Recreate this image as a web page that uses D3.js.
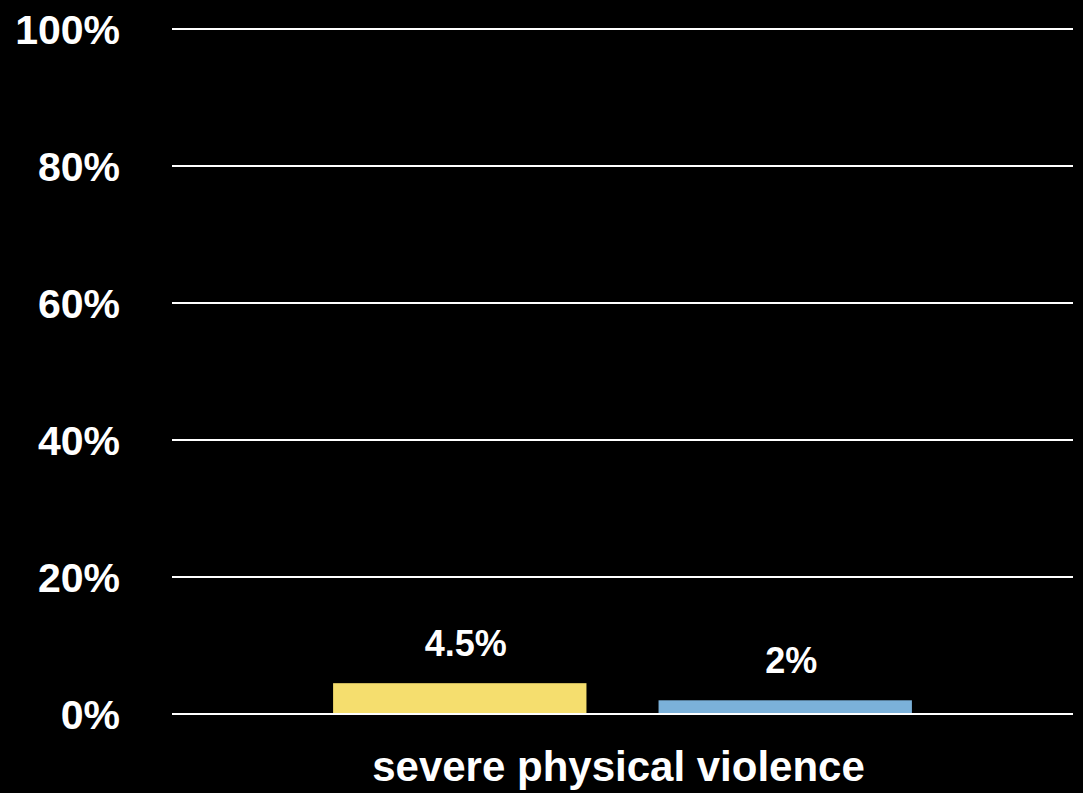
<!DOCTYPE html>
<html>
<head>
<meta charset="utf-8">
<script src="https://cdn.jsdelivr.net/npm/d3@7"></script>
<style>
  html, body { margin: 0; padding: 0; background: #000; }
  svg { display: block; }
  text { font-family: "Liberation Sans", Arial, sans-serif; font-weight: bold; fill: #fff; }
</style>
</head>
<body>
<svg id="chart" width="1083" height="793"></svg>
<script>
const categories = ["severe physical violence"];
const seriesNames = ["group A", "group B"];
const seriesValues = [4.5, 2];
const valueLabels = ["4.5%", "2%"];
const yTicks = [0, 20, 40, 60, 80, 100];
const seriesColors = ["#F5DE6E", "#7BB1D9"];

(function () {
const W = 1083, H = 793;
const svg = d3.select("#chart");
svg.append("rect").attr("width", W).attr("height", H).attr("fill", "#000");

const mLeft = 172, mRight = 1073, mTop = 29, mBottom = 714;

const y = d3.scaleLinear().domain([0, 100]).range([mBottom, mTop]);
const xCat = d3.scaleBand().domain(categories).range([mLeft, mRight]).padding(0);
const xSer = d3.scaleBand().domain(seriesNames)
  .range([0, xCat.bandwidth()]).paddingInner(0.2215).paddingOuter(0.495);

// gridlines
svg.append("g").selectAll("line").data(yTicks).join("line")
  .attr("x1", mLeft).attr("x2", mRight)
  .attr("y1", d => y(d)).attr("y2", d => y(d))
  .attr("stroke", "#fff").attr("stroke-width", 2);

// y axis labels
const yAxis = d3.axisLeft(y).tickValues(yTicks).tickFormat(d => d + "%").tickSize(0).tickPadding(0);
const gy = svg.append("g").attr("transform", "translate(120,0)").call(yAxis);
gy.select(".domain").remove();
gy.selectAll("text").attr("font-size", 41).attr("fill", "#fff")
  .style("font-family", '"Liberation Sans", Arial, sans-serif').style("font-weight", "bold")
  .attr("dy", "0.36em");

// bars
const g = svg.append("g");
categories.forEach(cat => {
  const x0 = xCat(cat);
  g.selectAll("rect.bar").data(seriesNames).join("rect").attr("class", "bar")
    .attr("x", d => x0 + xSer(d))
    .attr("width", xSer.bandwidth())
    .attr("y", (d, i) => y(seriesValues[i]))
    .attr("height", (d, i) => y(0) - y(seriesValues[i]) - 1)
    .attr("fill", (d, i) => seriesColors[i]);
  g.selectAll("text.val").data(seriesNames).join("text").attr("class", "val")
    .attr("x", d => x0 + xSer(d) + xSer.bandwidth() / 2 + 6)
    .attr("y", (d, i) => y(seriesValues[i]) - 27)
    .attr("text-anchor", "middle")
    .attr("font-size", 36)
    .text((d, i) => valueLabels[i]);
});

// category axis label
const xAxis = d3.axisBottom(xCat).tickSize(0).tickPadding(0);
const gx = svg.append("g").attr("transform", `translate(-4,${mBottom})`).call(xAxis);
gx.select(".domain").remove();
gx.selectAll("text").attr("font-size", 42).attr("fill", "#fff")
  .style("font-family", '"Liberation Sans", Arial, sans-serif').style("font-weight", "bold")
  .attr("dy", 0).attr("y", 67);
})();
</script>
</body>
</html>
